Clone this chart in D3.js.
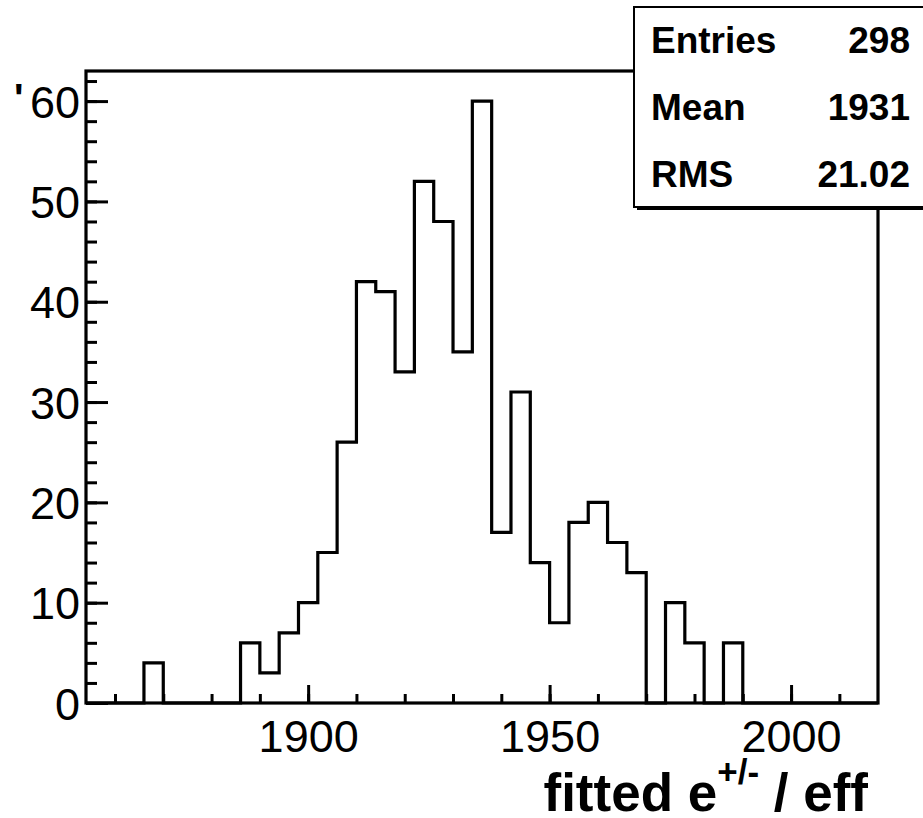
<!DOCTYPE html>
<html>
<head>
<meta charset="utf-8">
<script src="https://cdn.jsdelivr.net/npm/d3@7"></script>
<style>
  body { margin: 0; background: #fff; }
  text { font-family: "Liberation Sans", Arial, Helvetica, sans-serif; fill: #000; }
</style>
</head>
<body>
<div id="chart"></div>
<script>
// histogram binning (lower edge, upper edge, bin width)
let xMin = 1854, xMax = 2018, binWidth = 4;

// bin contents, one per bin from 1854 to 2018
let counts = [0, 0, 0, 4, 0, 0, 0, 0, 6, 3,
              7, 10, 15, 26, 42, 41, 33, 52, 48, 35,
              60, 17, 31, 14, 8, 18, 20, 16, 13, 0,
              10, 6, 0, 6, 0, 0, 0, 0, 0, 0, 0];

// axis ticks
let xTicks = [1900, 1950, 2000];
let xMinorTicks = d3.range(1860, 2011, 10);
let yTicks = [0, 10, 20, 30, 40, 50, 60];
let yMinorTicks = d3.range(0, 63, 2);

// stats box
let statNames = ['Entries', 'Mean', 'RMS'];
let statValues = ['298', '1931', '21.02'];

// page size and frame margins
let W = 923, H = 818;
let margin = { left: 86, top: 71, right: 45, bottom: 115 };
let width = W - margin.left - margin.right;
let height = H - margin.top - margin.bottom;

let svg = d3.select('#chart').append('svg')
    .attr('width', W)
    .attr('height', H);

let g = svg.append('g')
    .attr('transform', 'translate(' + margin.left + ',' + margin.top + ')');

let x = d3.scaleLinear().domain([xMin, xMax]).range([0, width]);
let y = d3.scaleLinear().domain([0, 63]).range([height, 0]);

// frame
g.append('rect')
    .attr('width', width)
    .attr('height', height)
    .attr('fill', 'none')
    .attr('stroke', '#000')
    .attr('stroke-width', 3.2);

// y axis (ticks drawn inside the frame, ROOT style)
let yAxis = g.append('g')
    .call(d3.axisLeft(y).tickValues(yTicks).tickSize(-22).tickPadding(6));
yAxis.select('.domain').remove();
yAxis.selectAll('line').attr('stroke-width', 3);
yAxis.selectAll('text')
    .attr('font-size', '45px')
    .attr('dy', '0.36em')
    .style('font-family', '"Liberation Sans", Arial, sans-serif');

let yMinor = g.append('g')
    .call(d3.axisLeft(y).tickValues(yMinorTicks).tickSize(-11).tickFormat(''));
yMinor.select('.domain').remove();
yMinor.selectAll('line').attr('stroke-width', 3);

// x axis
let xAxis = g.append('g')
    .attr('transform', 'translate(0,' + height + ')')
    .call(d3.axisBottom(x).tickValues(xTicks).tickSize(-18).tickPadding(17)
        .tickFormat(d3.format('d')));
xAxis.select('.domain').remove();
xAxis.selectAll('line').attr('stroke-width', 3);
xAxis.selectAll('text')
    .attr('font-size', '45px')
    .style('font-family', '"Liberation Sans", Arial, sans-serif');

let xMinor = g.append('g')
    .attr('transform', 'translate(0,' + height + ')')
    .call(d3.axisBottom(x).tickValues(xMinorTicks).tickSize(-9).tickFormat(''));
xMinor.select('.domain').remove();
xMinor.selectAll('line').attr('stroke-width', 3);

// histogram outline as a step line
let pts = [[xMin, 0]];
counts.forEach(function (c, i) {
    pts.push([xMin + i * binWidth, c]);
});
pts.push([xMax, counts[counts.length - 1]]);
pts.push([xMax, 0]);

let line = d3.line()
    .x(function (d) { return x(d[0]); })
    .y(function (d) { return y(d[1]); })
    .curve(d3.curveStepAfter);

g.append('path')
    .attr('d', line(pts))
    .attr('fill', 'none')
    .attr('stroke', '#000')
    .attr('stroke-width', 3.2);

// x title
let title = svg.append('text')
    .attr('x', 868)
    .attr('y', 811)
    .attr('text-anchor', 'end')
    .attr('font-weight', 'bold')
    .attr('font-size', '53px');
title.append('tspan').text('fitted e');
title.append('tspan').attr('font-size', '35px').attr('dy', -27).text('+/-');
title.append('tspan').attr('dy', 27).text(' / eff');

// stray mark at the left of the y axis
svg.append('text')
    .attr('x', 14)
    .attr('y', 112)
    .attr('font-size', '40px')
    .attr('font-weight', 'bold')
    .text("'");

// stats box
let box = { x: 634, y: 7, w: 300, h: 200 };
svg.append('rect')
    .attr('x', box.x + 3).attr('y', box.y + 3)
    .attr('width', box.w).attr('height', box.h)
    .attr('fill', '#000');
svg.append('rect')
    .attr('x', box.x).attr('y', box.y)
    .attr('width', box.w).attr('height', box.h)
    .attr('fill', '#fff')
    .attr('stroke', '#000')
    .attr('stroke-width', 2);

let rowH = box.h / statNames.length;
statNames.forEach(function (name, i) {
    let base = box.y + rowH * (i + 0.5) + 13;
    svg.append('text')
        .attr('x', 651)
        .attr('y', base)
        .attr('font-size', '37px')
        .attr('font-weight', 'bold')
        .text(name);
    svg.append('text')
        .attr('x', 910)
        .attr('y', base)
        .attr('text-anchor', 'end')
        .attr('font-size', '37px')
        .attr('font-weight', 'bold')
        .text(statValues[i]);
});
</script>
</body>
</html>
